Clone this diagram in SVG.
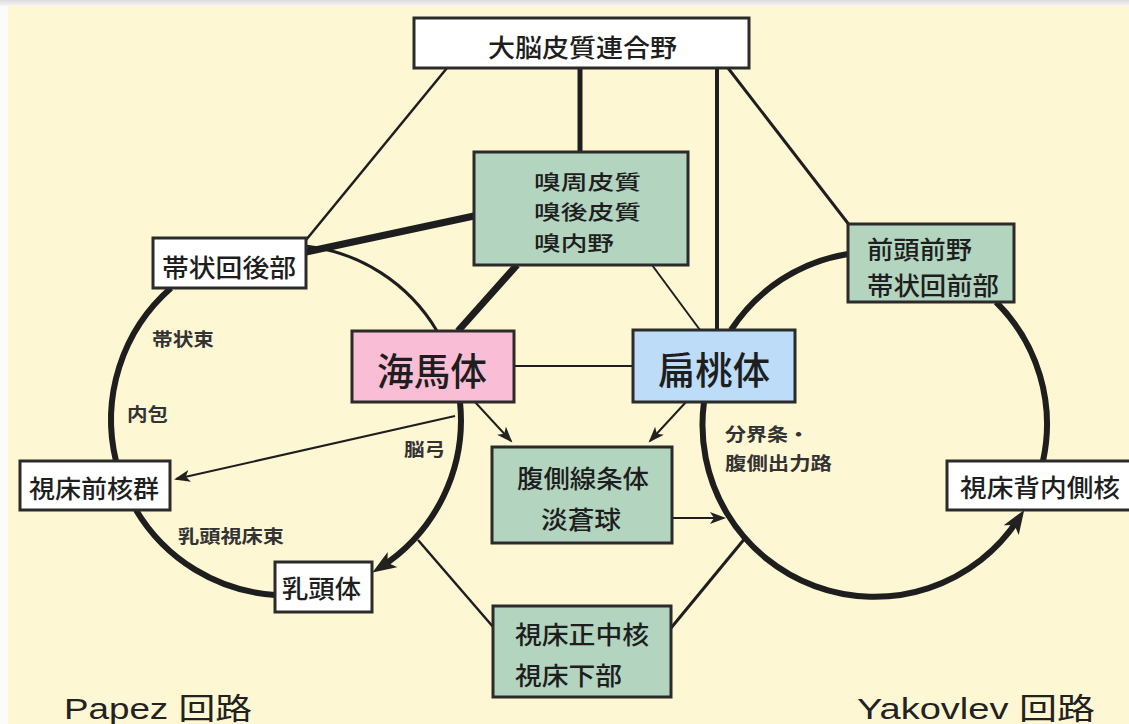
<svg xmlns="http://www.w3.org/2000/svg" width="1129" height="724" viewBox="0 0 1129 724">
<defs>
<linearGradient id="topg" x1="0" y1="0" x2="0" y2="1"><stop offset="0" stop-color="#dcdcdc"/><stop offset="1" stop-color="#f6f6f6"/></linearGradient>
<marker id="ahL" markerUnits="userSpaceOnUse" markerWidth="26" markerHeight="20" refX="14" refY="9" orient="auto"><path d="M0,0 L24,9 L0,18 L6,9 z" fill="#222"/></marker>
<marker id="ahS" markerUnits="userSpaceOnUse" markerWidth="18" markerHeight="14" refX="14" refY="6" orient="auto"><path d="M0,0 L16,6 L0,12 L4,6 z" fill="#222"/></marker>
</defs>
<style>
.box{stroke:#2b2b2b;stroke-width:3}
.w{fill:#ffffff}.g{fill:#b3d4bf}.p{fill:#f9bed6}.b{fill:#bcdcf7}
.t{font-family:"Noto Sans CJK JP","Noto Sans CJK SC",sans-serif;font-size:25px;font-weight:500;fill:#1e1e1e;dominant-baseline:central}
.sm{font-size:20.5px}
.big{font-size:38px}
.s{font-family:"Noto Sans CJK JP","Noto Sans CJK SC",sans-serif;font-size:18px;font-weight:bold;fill:#333;dominant-baseline:central}
.c{fill:none;stroke:#1e1e1e;stroke-linecap:butt}
.lab{font-family:"Liberation Sans","Noto Sans CJK JP",sans-serif;font-size:30px;fill:#222}
</style>
<rect x="0" y="0" width="1129" height="724" fill="#fbfbfb"/>
<rect x="0" y="0" width="1129" height="6" fill="url(#topg)"/>
<rect x="8" y="6" width="1121" height="718" fill="#fef7d3"/>

<g id="connectors">
<line class="c" x1="447" y1="68" x2="306" y2="240" stroke-width="2.5"/>
<line class="c" x1="580" y1="68" x2="580" y2="152" stroke-width="5"/>
<line class="c" x1="717" y1="68" x2="717" y2="330" stroke-width="4"/>
<line class="c" x1="728" y1="68" x2="850" y2="226" stroke-width="3"/>
<line class="c" x1="306" y1="252" x2="474" y2="216" stroke-width="7"/>
<line class="c" x1="517" y1="265" x2="458" y2="331" stroke-width="7"/>
<line class="c" x1="652" y1="265" x2="700" y2="330" stroke-width="2"/>
<line class="c" x1="514" y1="366" x2="633" y2="366" stroke-width="2"/>
<path class="c" d="M305,246 A175,175 0 0 1 437,331" stroke-width="3"/>
<path class="c" d="M460,402 A175,175 0 0 1 380.8,567.1" stroke-width="6" marker-end="url(#ahL)"/>
<path class="c" d="M275,595 A175,175 0 0 1 136,510" stroke-width="6"/>
<path class="c" d="M116,461 A175,175 0 0 1 171,288" stroke-width="6"/>
<path class="c" d="M731,330 A172,172 0 0 1 848,254" stroke-width="6"/>
<path class="c" d="M996,302 A172,172 0 0 1 1043,461" stroke-width="6"/>
<path class="c" d="M704,402 A172,172 0 0 0 1018.8,518.4" stroke-width="6" marker-end="url(#ahL)"/>
<line class="c" x1="455" y1="416" x2="176" y2="479" stroke-width="2" marker-end="url(#ahS)"/>
<line class="c" x1="475" y1="402" x2="511" y2="441" stroke-width="2" marker-end="url(#ahS)"/>
<line class="c" x1="686" y1="402" x2="650" y2="441" stroke-width="2" marker-end="url(#ahS)"/>
<line class="c" x1="660" y1="518" x2="724" y2="518" stroke-width="2" marker-end="url(#ahS)"/>
<line class="c" x1="418" y1="540" x2="494" y2="628" stroke-width="2.5"/>
<line class="c" x1="746" y1="537" x2="671" y2="628" stroke-width="3"/>
</g>

<g id="n-cortex"><rect class="box w" x="414" y="18" width="335" height="50"/><text class="t" x="488" y="46" textLength="189" lengthAdjust="spacingAndGlyphs">大脳皮質連合野</text></g>
<g id="n-olf"><rect class="box g" x="474" y="152" width="214" height="113"/>
<text class="t sm" x="534" y="180.5" textLength="107" lengthAdjust="spacingAndGlyphs">嗅周皮質</text>
<text class="t sm" x="534" y="211" textLength="107" lengthAdjust="spacingAndGlyphs">嗅後皮質</text>
<text class="t sm" x="534" y="241.5" textLength="80" lengthAdjust="spacingAndGlyphs">嗅内野</text></g>
<g id="n-postcing"><rect class="box w" x="153" y="238" width="153" height="50"/><text class="t" x="162" y="266" textLength="134" lengthAdjust="spacingAndGlyphs">帯状回後部</text></g>
<g id="n-hippo"><rect class="box p" x="352" y="331" width="162" height="71"/><text class="t big" x="377" y="368" textLength="110" lengthAdjust="spacingAndGlyphs">海馬体</text></g>
<g id="n-amyg"><rect class="box b" x="633" y="330" width="162" height="72"/><text class="t big" x="658" y="367" textLength="112" lengthAdjust="spacingAndGlyphs">扁桃体</text></g>
<g id="n-pfc"><rect class="box g" x="848" y="224" width="166" height="78"/>
<text class="t" x="867" y="248" textLength="105" lengthAdjust="spacingAndGlyphs">前頭前野</text>
<text class="t" x="867" y="284" textLength="132" lengthAdjust="spacingAndGlyphs">帯状回前部</text></g>
<g id="n-antthal"><rect class="box w" x="20" y="461" width="150" height="49"/><text class="t" x="29" y="487" textLength="130" lengthAdjust="spacingAndGlyphs">視床前核群</text></g>
<g id="n-mamm"><rect class="box w" x="275" y="562" width="97" height="50"/><text class="t" x="282" y="587" textLength="79" lengthAdjust="spacingAndGlyphs">乳頭体</text></g>
<g id="n-md"><rect class="box w" x="947" y="461" width="186" height="49"/><text class="t" x="960" y="486" textLength="160" lengthAdjust="spacingAndGlyphs">視床背内側核</text></g>
<g id="n-vs"><rect class="box g" x="492" y="447" width="180" height="96"/>
<text class="t" x="517" y="477" textLength="132" lengthAdjust="spacingAndGlyphs">腹側線条体</text>
<text class="t" x="541" y="518" textLength="80" lengthAdjust="spacingAndGlyphs">淡蒼球</text></g>
<g id="n-midline"><rect class="box g" x="493" y="606" width="178" height="91"/>
<text class="t" x="515" y="633" textLength="134" lengthAdjust="spacingAndGlyphs">視床正中核</text>
<text class="t" x="515" y="674" textLength="107" lengthAdjust="spacingAndGlyphs">視床下部</text></g>

<g id="labels">
<text class="s" x="152" y="338" textLength="62" lengthAdjust="spacingAndGlyphs">帯状束</text>
<text class="s" x="127" y="413" textLength="41" lengthAdjust="spacingAndGlyphs">内包</text>
<text class="s" x="404" y="448" textLength="41" lengthAdjust="spacingAndGlyphs">脳弓</text>
<text class="s" x="178" y="535" textLength="106" lengthAdjust="spacingAndGlyphs">乳頭視床束</text>
<text class="s" x="725" y="433" textLength="84" lengthAdjust="spacingAndGlyphs">分界条・</text>
<text class="s" x="725" y="462" textLength="107" lengthAdjust="spacingAndGlyphs">腹側出力路</text>
<text class="lab" x="64" y="719" textLength="188" lengthAdjust="spacingAndGlyphs">Papez 回路</text>
<text class="lab" x="857" y="719" textLength="238" lengthAdjust="spacingAndGlyphs">Yakovlev 回路</text>
</g>
</svg>
